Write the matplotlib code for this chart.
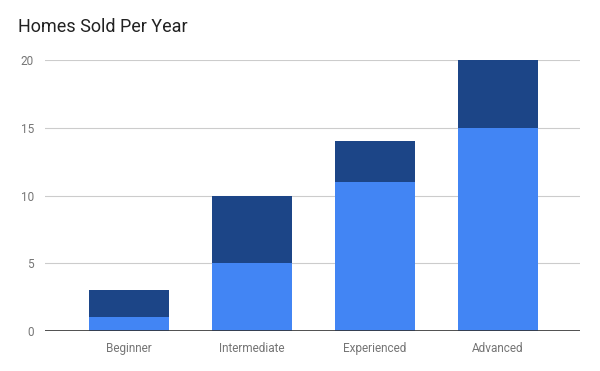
import matplotlib
matplotlib.use('Agg')
import matplotlib.pyplot as plt

plt.rcParams['font.family'] = ['Roboto', 'DejaVu Sans']

# data
categories = ['Beginner', 'Intermediate', 'Experienced', 'Advanced']
lower = [1, 5, 11, 15]
upper = [2, 5, 3, 5]
y_ticks = [0, 5, 10, 15, 20]

fig = plt.figure(figsize=(6, 3.71), dpi=100)
ax = fig.add_axes([0.075, 0.108, 0.892, 0.730])

x = range(len(categories))
ax.bar(x, lower, width=0.65, color='#4285F4', zorder=2)
ax.bar(x, upper, width=0.65, bottom=lower, color='#1C4587', zorder=2)

ax.set_xlim(-0.68, 3.67)
ax.set_ylim(0, 20)
ax.set_yticks(y_ticks)
ax.set_xticks(list(x))
ax.set_xticklabels(categories)

ax.grid(axis='y', color='#cccccc', linewidth=0.8, zorder=0)
ax.axhline(0, color='#333333', linewidth=1.2, zorder=3)

for s in ax.spines.values():
    s.set_visible(False)
ax.tick_params(length=0, labelsize=8.5, labelcolor='#757575')
ax.tick_params(axis='y', pad=8)
ax.tick_params(axis='x', pad=8)

fig.text(0.03, 0.915, 'Homes Sold Per Year', fontsize=13, color='#222222', va='baseline')

fig.savefig('out.png', dpi=100)
